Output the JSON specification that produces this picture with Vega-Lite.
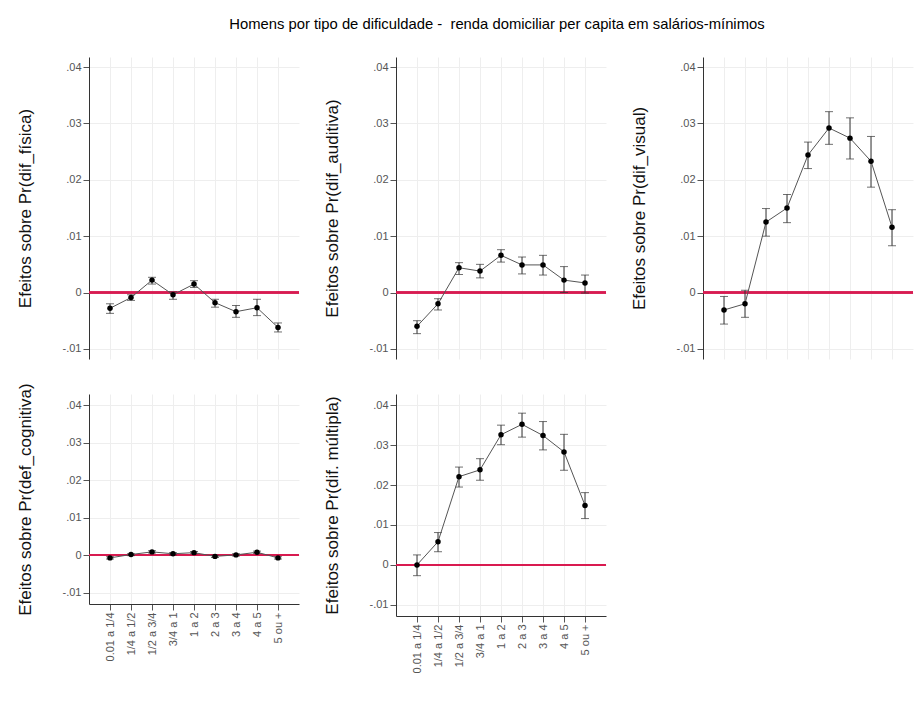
{
  "$schema": "https://vega.github.io/schema/vega-lite/v6.json",
  "background": "white",
  "padding": {"left": 16, "top": 17, "right": 5, "bottom": 5},
  "title": {"text": "Homens por tipo de dificuldade -\u00a0 renda domiciliar per capita em salários-mínimos", "font": "Liberation Sans", "fontSize": 14.8, "fontWeight": "normal", "color": "#000", "anchor": "middle", "offset": 25, "dx": 32},
  "datasets": {
    "d": [
      {"p": "fisica", "cat": "0.01 a 1/4", "est": -0.0028, "lo": -0.0037, "hi": -0.002},
      {"p": "fisica", "cat": "1/4 a 1/2", "est": -0.0009, "lo": -0.0014, "hi": -0.0004},
      {"p": "fisica", "cat": "1/2 a 3/4", "est": 0.0022, "lo": 0.0015, "hi": 0.0027},
      {"p": "fisica", "cat": "3/4 a 1", "est": -0.0004, "lo": -0.0012, "hi": 0.0001},
      {"p": "fisica", "cat": "1 a 2", "est": 0.0015, "lo": 0.0009, "hi": 0.0021},
      {"p": "fisica", "cat": "2 a 3", "est": -0.0018, "lo": -0.0026, "hi": -0.0012},
      {"p": "fisica", "cat": "3 a 4", "est": -0.0034, "lo": -0.0044, "hi": -0.0023},
      {"p": "fisica", "cat": "4 a 5", "est": -0.0027, "lo": -0.0041, "hi": -0.0012},
      {"p": "fisica", "cat": "5 ou +", "est": -0.0062, "lo": -0.007, "hi": -0.0054},
      {"p": "auditiva", "cat": "0.01 a 1/4", "est": -0.006, "lo": -0.0073, "hi": -0.005},
      {"p": "auditiva", "cat": "1/4 a 1/2", "est": -0.002, "lo": -0.0031, "hi": -0.0011},
      {"p": "auditiva", "cat": "1/2 a 3/4", "est": 0.0044, "lo": 0.0032, "hi": 0.0053},
      {"p": "auditiva", "cat": "3/4 a 1", "est": 0.0038, "lo": 0.0026, "hi": 0.005},
      {"p": "auditiva", "cat": "1 a 2", "est": 0.0066, "lo": 0.0054, "hi": 0.0076},
      {"p": "auditiva", "cat": "2 a 3", "est": 0.0049, "lo": 0.0033, "hi": 0.0063},
      {"p": "auditiva", "cat": "3 a 4", "est": 0.0049, "lo": 0.0031, "hi": 0.0066},
      {"p": "auditiva", "cat": "4 a 5", "est": 0.0022, "lo": 0.0, "hi": 0.0046},
      {"p": "auditiva", "cat": "5 ou +", "est": 0.0017, "lo": -0.0001, "hi": 0.0031},
      {"p": "visual", "cat": "0.01 a 1/4", "est": -0.0031, "lo": -0.0056, "hi": -0.0007},
      {"p": "visual", "cat": "1/4 a 1/2", "est": -0.002, "lo": -0.0044, "hi": 0.0004},
      {"p": "visual", "cat": "1/2 a 3/4", "est": 0.0125, "lo": 0.01, "hi": 0.0149},
      {"p": "visual", "cat": "3/4 a 1", "est": 0.015, "lo": 0.0124, "hi": 0.0174},
      {"p": "visual", "cat": "1 a 2", "est": 0.0244, "lo": 0.022, "hi": 0.0267},
      {"p": "visual", "cat": "2 a 3", "est": 0.0292, "lo": 0.0263, "hi": 0.0321},
      {"p": "visual", "cat": "3 a 4", "est": 0.0274, "lo": 0.0237, "hi": 0.031},
      {"p": "visual", "cat": "4 a 5", "est": 0.0233, "lo": 0.0187, "hi": 0.0277},
      {"p": "visual", "cat": "5 ou +", "est": 0.0116, "lo": 0.0083, "hi": 0.0147},
      {"p": "cognitiva", "cat": "0.01 a 1/4", "est": -0.0007, "lo": -0.001, "hi": -0.0004},
      {"p": "cognitiva", "cat": "1/4 a 1/2", "est": 0.0002, "lo": -0.0001, "hi": 0.0004},
      {"p": "cognitiva", "cat": "1/2 a 3/4", "est": 0.0009, "lo": 0.0006, "hi": 0.0012},
      {"p": "cognitiva", "cat": "3/4 a 1", "est": 0.0004, "lo": 0.0001, "hi": 0.0007},
      {"p": "cognitiva", "cat": "1 a 2", "est": 0.0007, "lo": 0.0004, "hi": 0.001},
      {"p": "cognitiva", "cat": "2 a 3", "est": -0.0003, "lo": -0.0006, "hi": 0.0},
      {"p": "cognitiva", "cat": "3 a 4", "est": 0.0001, "lo": -0.0002, "hi": 0.0004},
      {"p": "cognitiva", "cat": "4 a 5", "est": 0.0008, "lo": 0.0005, "hi": 0.0011},
      {"p": "cognitiva", "cat": "5 ou +", "est": -0.0007, "lo": -0.001, "hi": -0.0004},
      {"p": "multipla", "cat": "0.01 a 1/4", "est": 0.0, "lo": -0.0027, "hi": 0.0025},
      {"p": "multipla", "cat": "1/4 a 1/2", "est": 0.0058, "lo": 0.0033, "hi": 0.0081},
      {"p": "multipla", "cat": "1/2 a 3/4", "est": 0.0221, "lo": 0.0195, "hi": 0.0245},
      {"p": "multipla", "cat": "3/4 a 1", "est": 0.0238, "lo": 0.0212, "hi": 0.0266},
      {"p": "multipla", "cat": "1 a 2", "est": 0.0326, "lo": 0.0301, "hi": 0.035},
      {"p": "multipla", "cat": "2 a 3", "est": 0.0352, "lo": 0.032, "hi": 0.038},
      {"p": "multipla", "cat": "3 a 4", "est": 0.0324, "lo": 0.0288, "hi": 0.0359},
      {"p": "multipla", "cat": "4 a 5", "est": 0.0283, "lo": 0.0237, "hi": 0.0327},
      {"p": "multipla", "cat": "5 ou +", "est": 0.0149, "lo": 0.0116, "hi": 0.0181}
    ]
  },
  "data": {"name": "d"},
  "bounds": "flush",
  "columns": 3,
  "spacing": {"row": 35, "column": 97},
  "concat": [
    {
      "width": 210, "height": 302,
      "transform": [{"filter": "datum.p == 'fisica'"}],
      "layer": [
        {"mark": {"type": "rule", "color": "#d81b50", "strokeWidth": 1.5}, "encoding": {"y": {"datum": 0, "type": "quantitative"}}},
        {"mark": {"type": "rule", "color": "#333", "strokeWidth": 1}, "encoding": {
          "x": {"field": "cat", "type": "ordinal", "sort": ["0.01 a 1/4","1/4 a 1/2","1/2 a 3/4","3/4 a 1","1 a 2","2 a 3","3 a 4","4 a 5","5 ou +"], "scale": {"type": "point", "padding": 1.5}, "axis": {"title": null, "labels": false, "ticks": false, "domain": false, "grid": true}},
          "y": {"field": "lo", "type": "quantitative", "scale": {"domain": [-0.0118, 0.0418], "nice": false, "zero": false}, "axis": {"title": "Efeitos sobre Pr(dif_física)", "values": [-0.01, 0, 0.01, 0.02, 0.03, 0.04], "labelExpr": "datum.value == 0 ? '0' : (datum.value < 0 ? '-' : '') + replace(format(abs(datum.value), '.2f'), '0.', '.')"}},
          "y2": {"field": "hi"}}},
        {"mark": {"type": "tick", "color": "#333", "size": 8, "thickness": 1}, "encoding": {"x": {"field": "cat", "type": "ordinal", "sort": null}, "y": {"field": "lo", "type": "quantitative"}}},
        {"mark": {"type": "tick", "color": "#333", "size": 8, "thickness": 1}, "encoding": {"x": {"field": "cat", "type": "ordinal", "sort": null}, "y": {"field": "hi", "type": "quantitative"}}},
        {"mark": {"type": "line", "color": "#555", "strokeWidth": 1}, "encoding": {"x": {"field": "cat", "type": "ordinal", "sort": ["0.01 a 1/4","1/4 a 1/2","1/2 a 3/4","3/4 a 1","1 a 2","2 a 3","3 a 4","4 a 5","5 ou +"]}, "y": {"field": "est", "type": "quantitative"}}},
        {"mark": {"type": "point", "filled": true, "color": "#000", "opacity": 1, "size": 30}, "encoding": {"x": {"field": "cat", "type": "ordinal", "sort": null}, "y": {"field": "est", "type": "quantitative"}}}
      ]
    },
    {
      "width": 210, "height": 302,
      "transform": [{"filter": "datum.p == 'auditiva'"}],
      "layer": [
        {"mark": {"type": "rule", "color": "#d81b50", "strokeWidth": 1.5}, "encoding": {"y": {"datum": 0, "type": "quantitative"}}},
        {"mark": {"type": "rule", "color": "#333", "strokeWidth": 1}, "encoding": {
          "x": {"field": "cat", "type": "ordinal", "sort": ["0.01 a 1/4","1/4 a 1/2","1/2 a 3/4","3/4 a 1","1 a 2","2 a 3","3 a 4","4 a 5","5 ou +"], "scale": {"type": "point", "padding": 1.5}, "axis": {"title": null, "labels": false, "ticks": false, "domain": false, "grid": true}},
          "y": {"field": "lo", "type": "quantitative", "scale": {"domain": [-0.0118, 0.0418], "nice": false, "zero": false}, "axis": {"title": "Efeitos sobre Pr(dif_auditiva)", "values": [-0.01, 0, 0.01, 0.02, 0.03, 0.04], "labelExpr": "datum.value == 0 ? '0' : (datum.value < 0 ? '-' : '') + replace(format(abs(datum.value), '.2f'), '0.', '.')"}},
          "y2": {"field": "hi"}}},
        {"mark": {"type": "tick", "color": "#333", "size": 8, "thickness": 1}, "encoding": {"x": {"field": "cat", "type": "ordinal", "sort": null}, "y": {"field": "lo", "type": "quantitative"}}},
        {"mark": {"type": "tick", "color": "#333", "size": 8, "thickness": 1}, "encoding": {"x": {"field": "cat", "type": "ordinal", "sort": null}, "y": {"field": "hi", "type": "quantitative"}}},
        {"mark": {"type": "line", "color": "#555", "strokeWidth": 1}, "encoding": {"x": {"field": "cat", "type": "ordinal", "sort": ["0.01 a 1/4","1/4 a 1/2","1/2 a 3/4","3/4 a 1","1 a 2","2 a 3","3 a 4","4 a 5","5 ou +"]}, "y": {"field": "est", "type": "quantitative"}}},
        {"mark": {"type": "point", "filled": true, "color": "#000", "opacity": 1, "size": 30}, "encoding": {"x": {"field": "cat", "type": "ordinal", "sort": null}, "y": {"field": "est", "type": "quantitative"}}}
      ]
    },
    {
      "width": 210, "height": 302,
      "transform": [{"filter": "datum.p == 'visual'"}],
      "layer": [
        {"mark": {"type": "rule", "color": "#d81b50", "strokeWidth": 1.5}, "encoding": {"y": {"datum": 0, "type": "quantitative"}}},
        {"mark": {"type": "rule", "color": "#333", "strokeWidth": 1}, "encoding": {
          "x": {"field": "cat", "type": "ordinal", "sort": ["0.01 a 1/4","1/4 a 1/2","1/2 a 3/4","3/4 a 1","1 a 2","2 a 3","3 a 4","4 a 5","5 ou +"], "scale": {"type": "point", "padding": 1.5}, "axis": {"title": null, "labels": false, "ticks": false, "domain": false, "grid": true}},
          "y": {"field": "lo", "type": "quantitative", "scale": {"domain": [-0.0118, 0.0418], "nice": false, "zero": false}, "axis": {"title": "Efeitos sobre Pr(dif_visual)", "values": [-0.01, 0, 0.01, 0.02, 0.03, 0.04], "labelExpr": "datum.value == 0 ? '0' : (datum.value < 0 ? '-' : '') + replace(format(abs(datum.value), '.2f'), '0.', '.')"}},
          "y2": {"field": "hi"}}},
        {"mark": {"type": "tick", "color": "#333", "size": 8, "thickness": 1}, "encoding": {"x": {"field": "cat", "type": "ordinal", "sort": null}, "y": {"field": "lo", "type": "quantitative"}}},
        {"mark": {"type": "tick", "color": "#333", "size": 8, "thickness": 1}, "encoding": {"x": {"field": "cat", "type": "ordinal", "sort": null}, "y": {"field": "hi", "type": "quantitative"}}},
        {"mark": {"type": "line", "color": "#555", "strokeWidth": 1}, "encoding": {"x": {"field": "cat", "type": "ordinal", "sort": ["0.01 a 1/4","1/4 a 1/2","1/2 a 3/4","3/4 a 1","1 a 2","2 a 3","3 a 4","4 a 5","5 ou +"]}, "y": {"field": "est", "type": "quantitative"}}},
        {"mark": {"type": "point", "filled": true, "color": "#000", "opacity": 1, "size": 30}, "encoding": {"x": {"field": "cat", "type": "ordinal", "sort": null}, "y": {"field": "est", "type": "quantitative"}}}
      ]
    },
    {
      "width": 210, "height": 210,
      "transform": [{"filter": "datum.p == 'cognitiva'"}],
      "layer": [
        {"mark": {"type": "rule", "color": "#d81b50", "strokeWidth": 1.5}, "encoding": {"y": {"datum": 0, "type": "quantitative"}}},
        {"mark": {"type": "rule", "color": "#333", "strokeWidth": 1}, "encoding": {
          "x": {"field": "cat", "type": "ordinal", "sort": ["0.01 a 1/4","1/4 a 1/2","1/2 a 3/4","3/4 a 1","1 a 2","2 a 3","3 a 4","4 a 5","5 ou +"], "scale": {"type": "point", "padding": 1.5}, "axis": {"title": null, "labelAngle": 270, "grid": true}},
          "y": {"field": "lo", "type": "quantitative", "scale": {"domain": [-0.013, 0.043], "nice": false, "zero": false}, "axis": {"title": "Efeitos sobre Pr(def_cognitiva)", "values": [-0.01, 0, 0.01, 0.02, 0.03, 0.04], "labelExpr": "datum.value == 0 ? '0' : (datum.value < 0 ? '-' : '') + replace(format(abs(datum.value), '.2f'), '0.', '.')"}},
          "y2": {"field": "hi"}}},
        {"mark": {"type": "tick", "color": "#333", "size": 8, "thickness": 1}, "encoding": {"x": {"field": "cat", "type": "ordinal", "sort": null}, "y": {"field": "lo", "type": "quantitative"}}},
        {"mark": {"type": "tick", "color": "#333", "size": 8, "thickness": 1}, "encoding": {"x": {"field": "cat", "type": "ordinal", "sort": null}, "y": {"field": "hi", "type": "quantitative"}}},
        {"mark": {"type": "line", "color": "#555", "strokeWidth": 1}, "encoding": {"x": {"field": "cat", "type": "ordinal", "sort": ["0.01 a 1/4","1/4 a 1/2","1/2 a 3/4","3/4 a 1","1 a 2","2 a 3","3 a 4","4 a 5","5 ou +"]}, "y": {"field": "est", "type": "quantitative"}}},
        {"mark": {"type": "point", "filled": true, "color": "#000", "opacity": 1, "size": 30}, "encoding": {"x": {"field": "cat", "type": "ordinal", "sort": null}, "y": {"field": "est", "type": "quantitative"}}}
      ]
    },
    {
      "width": 210, "height": 222,
      "transform": [{"filter": "datum.p == 'multipla'"}],
      "layer": [
        {"mark": {"type": "rule", "color": "#d81b50", "strokeWidth": 1.5}, "encoding": {"y": {"datum": 0, "type": "quantitative"}}},
        {"mark": {"type": "rule", "color": "#333", "strokeWidth": 1}, "encoding": {
          "x": {"field": "cat", "type": "ordinal", "sort": ["0.01 a 1/4","1/4 a 1/2","1/2 a 3/4","3/4 a 1","1 a 2","2 a 3","3 a 4","4 a 5","5 ou +"], "scale": {"type": "point", "padding": 1.5}, "axis": {"title": null, "labelAngle": 270, "grid": true}},
          "y": {"field": "lo", "type": "quantitative", "scale": {"domain": [-0.0128, 0.0428], "nice": false, "zero": false}, "axis": {"title": "Efeitos sobre Pr(dif. múltipla)", "values": [-0.01, 0, 0.01, 0.02, 0.03, 0.04], "labelExpr": "datum.value == 0 ? '0' : (datum.value < 0 ? '-' : '') + replace(format(abs(datum.value), '.2f'), '0.', '.')"}},
          "y2": {"field": "hi"}}},
        {"mark": {"type": "tick", "color": "#333", "size": 8, "thickness": 1}, "encoding": {"x": {"field": "cat", "type": "ordinal", "sort": null}, "y": {"field": "lo", "type": "quantitative"}}},
        {"mark": {"type": "tick", "color": "#333", "size": 8, "thickness": 1}, "encoding": {"x": {"field": "cat", "type": "ordinal", "sort": null}, "y": {"field": "hi", "type": "quantitative"}}},
        {"mark": {"type": "line", "color": "#555", "strokeWidth": 1}, "encoding": {"x": {"field": "cat", "type": "ordinal", "sort": ["0.01 a 1/4","1/4 a 1/2","1/2 a 3/4","3/4 a 1","1 a 2","2 a 3","3 a 4","4 a 5","5 ou +"]}, "y": {"field": "est", "type": "quantitative"}}},
        {"mark": {"type": "point", "filled": true, "color": "#000", "opacity": 1, "size": 30}, "encoding": {"x": {"field": "cat", "type": "ordinal", "sort": null}, "y": {"field": "est", "type": "quantitative"}}}
      ]
    }
  ],
  "config": {
    "font": "Liberation Sans",
    "view": {"stroke": null},
    "axis": {"labelFont": "Liberation Sans", "labelFontSize": 11, "labelColor": "#555", "labelPadding": 2, "titleFont": "Liberation Sans", "titleFontSize": 17, "titleFontWeight": "normal", "titleColor": "#111", "domainColor": "#333", "tickColor": "#555", "tickSize": 6, "gridColor": "#eeeeee", "titlePadding": 28},
    "axisY": {"grid": true, "gridColor": "#eeeeee"}
  }
}
